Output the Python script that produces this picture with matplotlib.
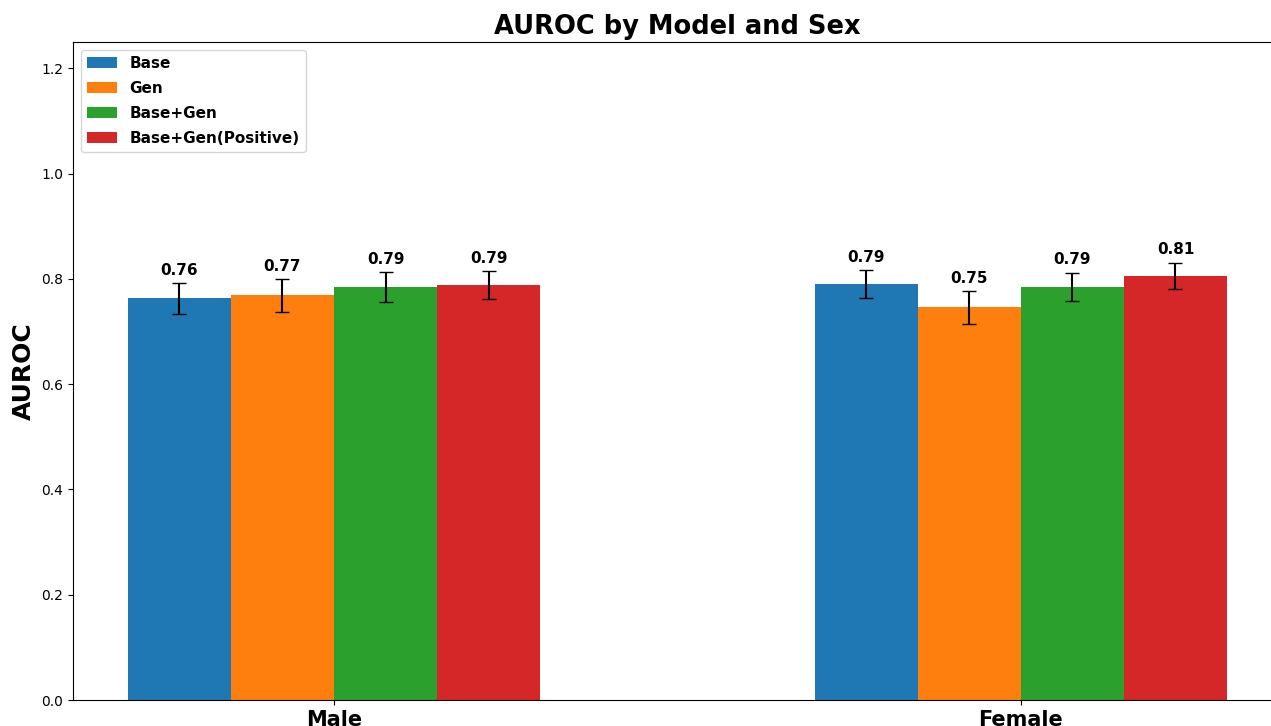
import matplotlib.pyplot as plt
import numpy as np

# AUROC per model, split by sex
groups = ["Male", "Female"]
models = ["Base", "Gen", "Base+Gen", "Base+Gen(Positive)"]
colors = ["#1f77b4", "#ff7f0e", "#2ca02c", "#d62728"]

auroc_base = [0.763, 0.790]
auroc_gen = [0.769, 0.746]
auroc_basegen = [0.785, 0.785]
auroc_basegen_pos = [0.788, 0.806]

err_base = [0.029, 0.027]
err_gen = [0.031, 0.031]
err_basegen = [0.028, 0.027]
err_basegen_pos = [0.027, 0.025]

means = [auroc_base, auroc_gen, auroc_basegen, auroc_basegen_pos]
errs = [err_base, err_gen, err_basegen, err_basegen_pos]

fig = plt.figure(figsize=(12.71, 7.26), dpi=100)
ax = fig.add_axes([0.0574, 0.0358, 0.9512, 0.9063])

x = np.arange(len(groups))
width = 0.15

for i, (name, col) in enumerate(zip(models, colors)):
    pos = x + (i - 1.5) * width
    ax.bar(pos, means[i], width, yerr=errs[i], capsize=5,
           color=col, label=name)
    for px, h, e in zip(pos, means[i], errs[i]):
        ax.text(px, h + e + 0.01, f"{h:.2f}", ha="center", va="bottom",
                fontsize=11, fontweight="bold")

ax.set_ylim(0, 1.25)
ax.set_xticks(x)
ax.set_xticklabels(groups, fontsize=15, fontweight="bold")
ax.set_ylabel("AUROC", fontsize=18, fontweight="bold")
ax.set_title("AUROC by Model and Sex", fontsize=18.5, fontweight="bold")
ax.legend(loc="upper left", prop={"weight": "bold", "size": 11},
          labelspacing=0.65)

fig.savefig("out.png", dpi=100)
